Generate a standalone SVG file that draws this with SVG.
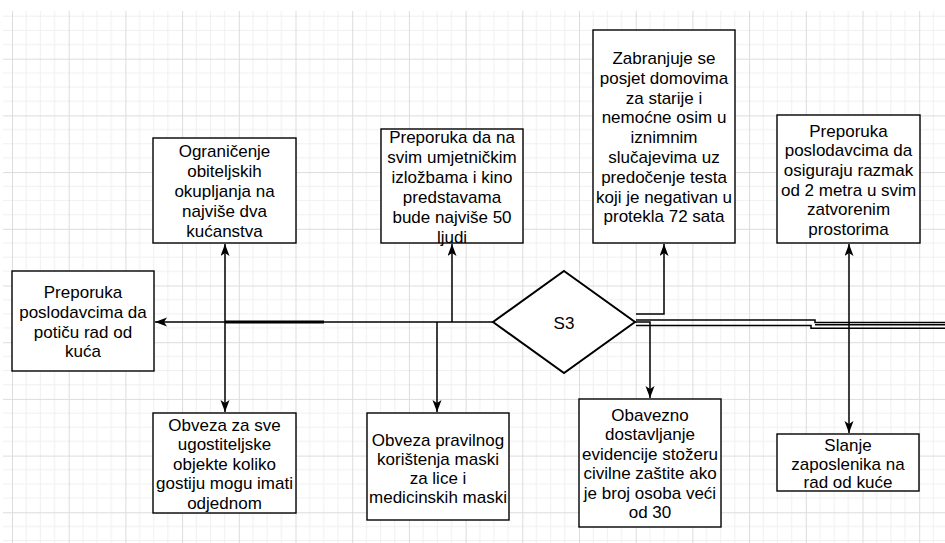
<svg xmlns="http://www.w3.org/2000/svg" width="945" height="543" viewBox="0 0 945 543">
<style>
.box{fill:#fff;stroke:#000;stroke-width:1.4}
.dia{fill:#fff;stroke:#000;stroke-width:2}
.t{font-family:"Liberation Sans",Arial,sans-serif;font-size:17px;fill:#000;text-anchor:middle}
.c{fill:none;stroke:#000;stroke-width:1.5}
.ca{fill:none;stroke:#000;stroke-width:1.5;marker-end:url(#arr)}
</style>
<defs>
<pattern id="grid" patternUnits="userSpaceOnUse" x="12" y="2" width="56.7" height="56.7">
<path d="M14.175,0V56.7M28.35,0V56.7M42.525,0V56.7M0,14.175H56.7M0,28.35H56.7M0,42.525H56.7" stroke="#f0f0f0" stroke-width="1" fill="none"/>
<path d="M0.5,0V56.7M0,0.5H56.7" stroke="#dcdcdc" stroke-width="1" fill="none"/>
</pattern>
<marker id="arr" markerUnits="userSpaceOnUse" markerWidth="13" markerHeight="10" refX="12" refY="4.5" orient="auto">
<path d="M0,0 L12,4.5 L0,9 L3,4.5 z" fill="#000"/>
</marker>
</defs>
<rect width="945" height="543" fill="#fff"/>
<rect x="3" y="11" width="942" height="532" fill="url(#grid)"/>

<g id="connectors">
<path class="ca" d="M493,322H155"/>
<path d="M225,322H324" stroke="#000" stroke-width="3" fill="none"/>
<path class="ca" d="M225,322V244"/>
<path class="ca" d="M225,322V412"/>
<path class="ca" d="M452,322V244"/>
<path class="ca" d="M437,322V412"/>
<path class="ca" d="M636,314H664V244"/>
<path class="ca" d="M635,322H650V398"/>
<path class="ca" d="M849,322V244"/>
<path class="ca" d="M849,322V433"/>
<path class="c" d="M636,320H815V322.5H945"/>
<path class="c" d="M815,324.8H945"/>
<path class="c" d="M636,325.5H811V328.3H945"/>
</g>

<g id="n1">
<rect class="box" x="12" y="271" width="142" height="100"/>
<text class="t"><tspan x="83" y="298">Preporuka</tspan><tspan x="83" y="318">poslodavcima da</tspan><tspan x="83" y="338">potiču rad od</tspan><tspan x="83" y="357">kuća</tspan></text>
</g>
<g id="n2">
<rect class="box" x="153" y="138" width="143" height="105"/>
<text class="t"><tspan x="224.5" y="157">Ograničenje</tspan><tspan x="224.5" y="177">obiteljskih</tspan><tspan x="224.5" y="197">okupljanja na</tspan><tspan x="224.5" y="217">najviše dva</tspan><tspan x="224.5" y="237">kućanstva</tspan></text>
</g>
<g id="n3">
<rect class="box" x="381" y="129" width="142" height="114"/>
<text class="t"><tspan x="452" y="143">Preporuka da na</tspan><tspan x="452" y="163">svim umjetničkim</tspan><tspan x="452" y="183">izložbama i kino</tspan><tspan x="452" y="203">predstavama</tspan><tspan x="452" y="223">bude najviše 50</tspan><tspan x="452" y="243">ljudi</tspan></text>
</g>
<g id="n4">
<rect class="box" x="593" y="30" width="142" height="213"/>
<text class="t"><tspan x="664" y="64">Zabranjuje se</tspan><tspan x="664" y="83.8">posjet domovima</tspan><tspan x="664" y="103.6">za starije i</tspan><tspan x="664" y="123.4">nemoćne osim u</tspan><tspan x="664" y="143.2">iznimnim</tspan><tspan x="664" y="163">slučajevima uz</tspan><tspan x="664" y="182.8">predočenje testa</tspan><tspan x="664" y="202.6">koji je negativan u</tspan><tspan x="664" y="222.4">protekla 72 sata</tspan></text>
</g>
<g id="n5">
<rect class="box" x="777" y="115" width="143" height="128"/>
<text class="t"><tspan x="848.5" y="136.5">Preporuka</tspan><tspan x="848.5" y="156.2">poslodavcima da</tspan><tspan x="848.5" y="175.9">osiguraju razmak</tspan><tspan x="848.5" y="195.6">od 2 metra u svim</tspan><tspan x="848.5" y="215.3">zatvorenim</tspan><tspan x="848.5" y="235">prostorima</tspan></text>
</g>
<g id="n6">
<rect class="box" x="153" y="413" width="143" height="100"/>
<text class="t"><tspan x="224.5" y="430.5">Obveza za sve</tspan><tspan x="224.5" y="450">ugostiteljske</tspan><tspan x="224.5" y="469.5">objekte koliko</tspan><tspan x="224.5" y="489">gostiju mogu imati</tspan><tspan x="224.5" y="508.5">odjednom</tspan></text>
</g>
<g id="n7">
<rect class="box" x="367" y="413" width="142" height="107"/>
<text class="t"><tspan x="438" y="445.5">Obveza pravilnog</tspan><tspan x="438" y="464.5">korištenja maski</tspan><tspan x="438" y="483.5">za lice i</tspan><tspan x="438" y="502.5">medicinskih maski</tspan></text>
</g>
<g id="n8">
<rect class="box" x="579" y="399" width="142" height="128"/>
<text class="t"><tspan x="650" y="420.5">Obavezno</tspan><tspan x="650" y="440">dostavljanje</tspan><tspan x="650" y="459.6">evidencije stožeru</tspan><tspan x="650" y="479.2">civilne zaštite ako</tspan><tspan x="650" y="498.8">je broj osoba veći</tspan><tspan x="650" y="518.3">od 30</tspan></text>
</g>
<g id="n9">
<rect class="box" x="777" y="434" width="142" height="57"/>
<text class="t"><tspan x="848" y="450.5">Slanje</tspan><tspan x="848" y="469.5">zaposlenika na</tspan><tspan x="848" y="488.3">rad od kuće</tspan></text>
</g>
<g id="s3">
<path class="dia" d="M564,271L635,322L564,373L493,322Z"/>
<text class="t" x="564" y="329">S3</text>
</g>
</svg>
